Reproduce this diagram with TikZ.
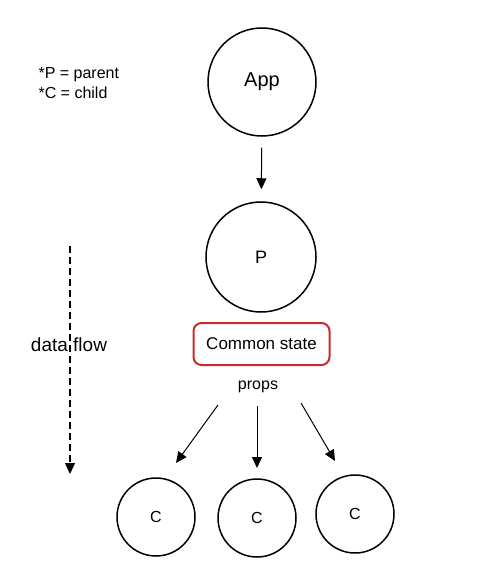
\documentclass[tikz,border=0pt]{standalone}
\usepackage{fontspec}
\setmainfont{Liberation Sans}
\usetikzlibrary{arrows.meta, positioning}
\definecolor{statered}{RGB}{201,42,42}

\begin{document}
\begin{tikzpicture}[x=1pt, y=-1pt,
  bubble/.style={draw, circle, line width=1.5pt, inner sep=0pt},
  flowarrow/.style={-{Triangle[length=11pt,width=10pt]}, line width=1pt}]
\useasboundingbox (0,0) rectangle (499,588);
% legend
\node[anchor=west, align=left, font=\fontsize{16}{20}\selectfont] (legend) at (35,83) {*P = parent\\*C = child};

% component tree
\node[bubble, minimum size=108pt, font=\fontsize{20}{24}\selectfont] (app) at (262,82) {App};
\node[bubble, minimum size=110pt, font=\fontsize{18}{20}\selectfont] (p) at (261,257) {P};
\draw[flowarrow, shorten <=11pt, shorten >=12pt] (app) -- (p);

\node[draw=statered, line width=2pt, rounded corners=8pt, minimum width=136pt, minimum height=42pt,
  font=\fontsize{17}{20}\selectfont] (state) at (261.5,344) {Common state};
\node[font=\fontsize{16}{18}\selectfont] (props) at (258,387) {props};

\node[bubble, minimum size=78pt, font=\fontsize{16}{18}\selectfont] (c1) at (156,517) {C};
\node[bubble, minimum size=78pt, font=\fontsize{16}{18}\selectfont] (c2) at (257,518) {C};
\node[bubble, minimum size=78pt, font=\fontsize{16}{18}\selectfont] (c3) at (355,514) {C};

% props arrows
\coordinate (l1) at (218,405);
\coordinate (l2) at (176,463);
\coordinate (m1) at (257,406);
\coordinate (m2) at (257,468);
\coordinate (r1) at (301,403);
\coordinate (r2) at (335,461);
\draw[flowarrow] (l1) -- (l2);
\draw[flowarrow] (m1) -- (m2);
\draw[flowarrow] (r1) -- (r2);

% data flow
\coordinate (flowtop) at (70,246);
\coordinate (flowbot) at (70,474);
\draw[-{Triangle[length=11pt,width=10pt]}, line width=1.5pt, dash pattern=on 7pt off 4pt] (flowtop) -- (flowbot);
\node[font=\fontsize{19}{22}\selectfont] (flow) at (69,345) {data flow};
\end{tikzpicture}
\end{document}
